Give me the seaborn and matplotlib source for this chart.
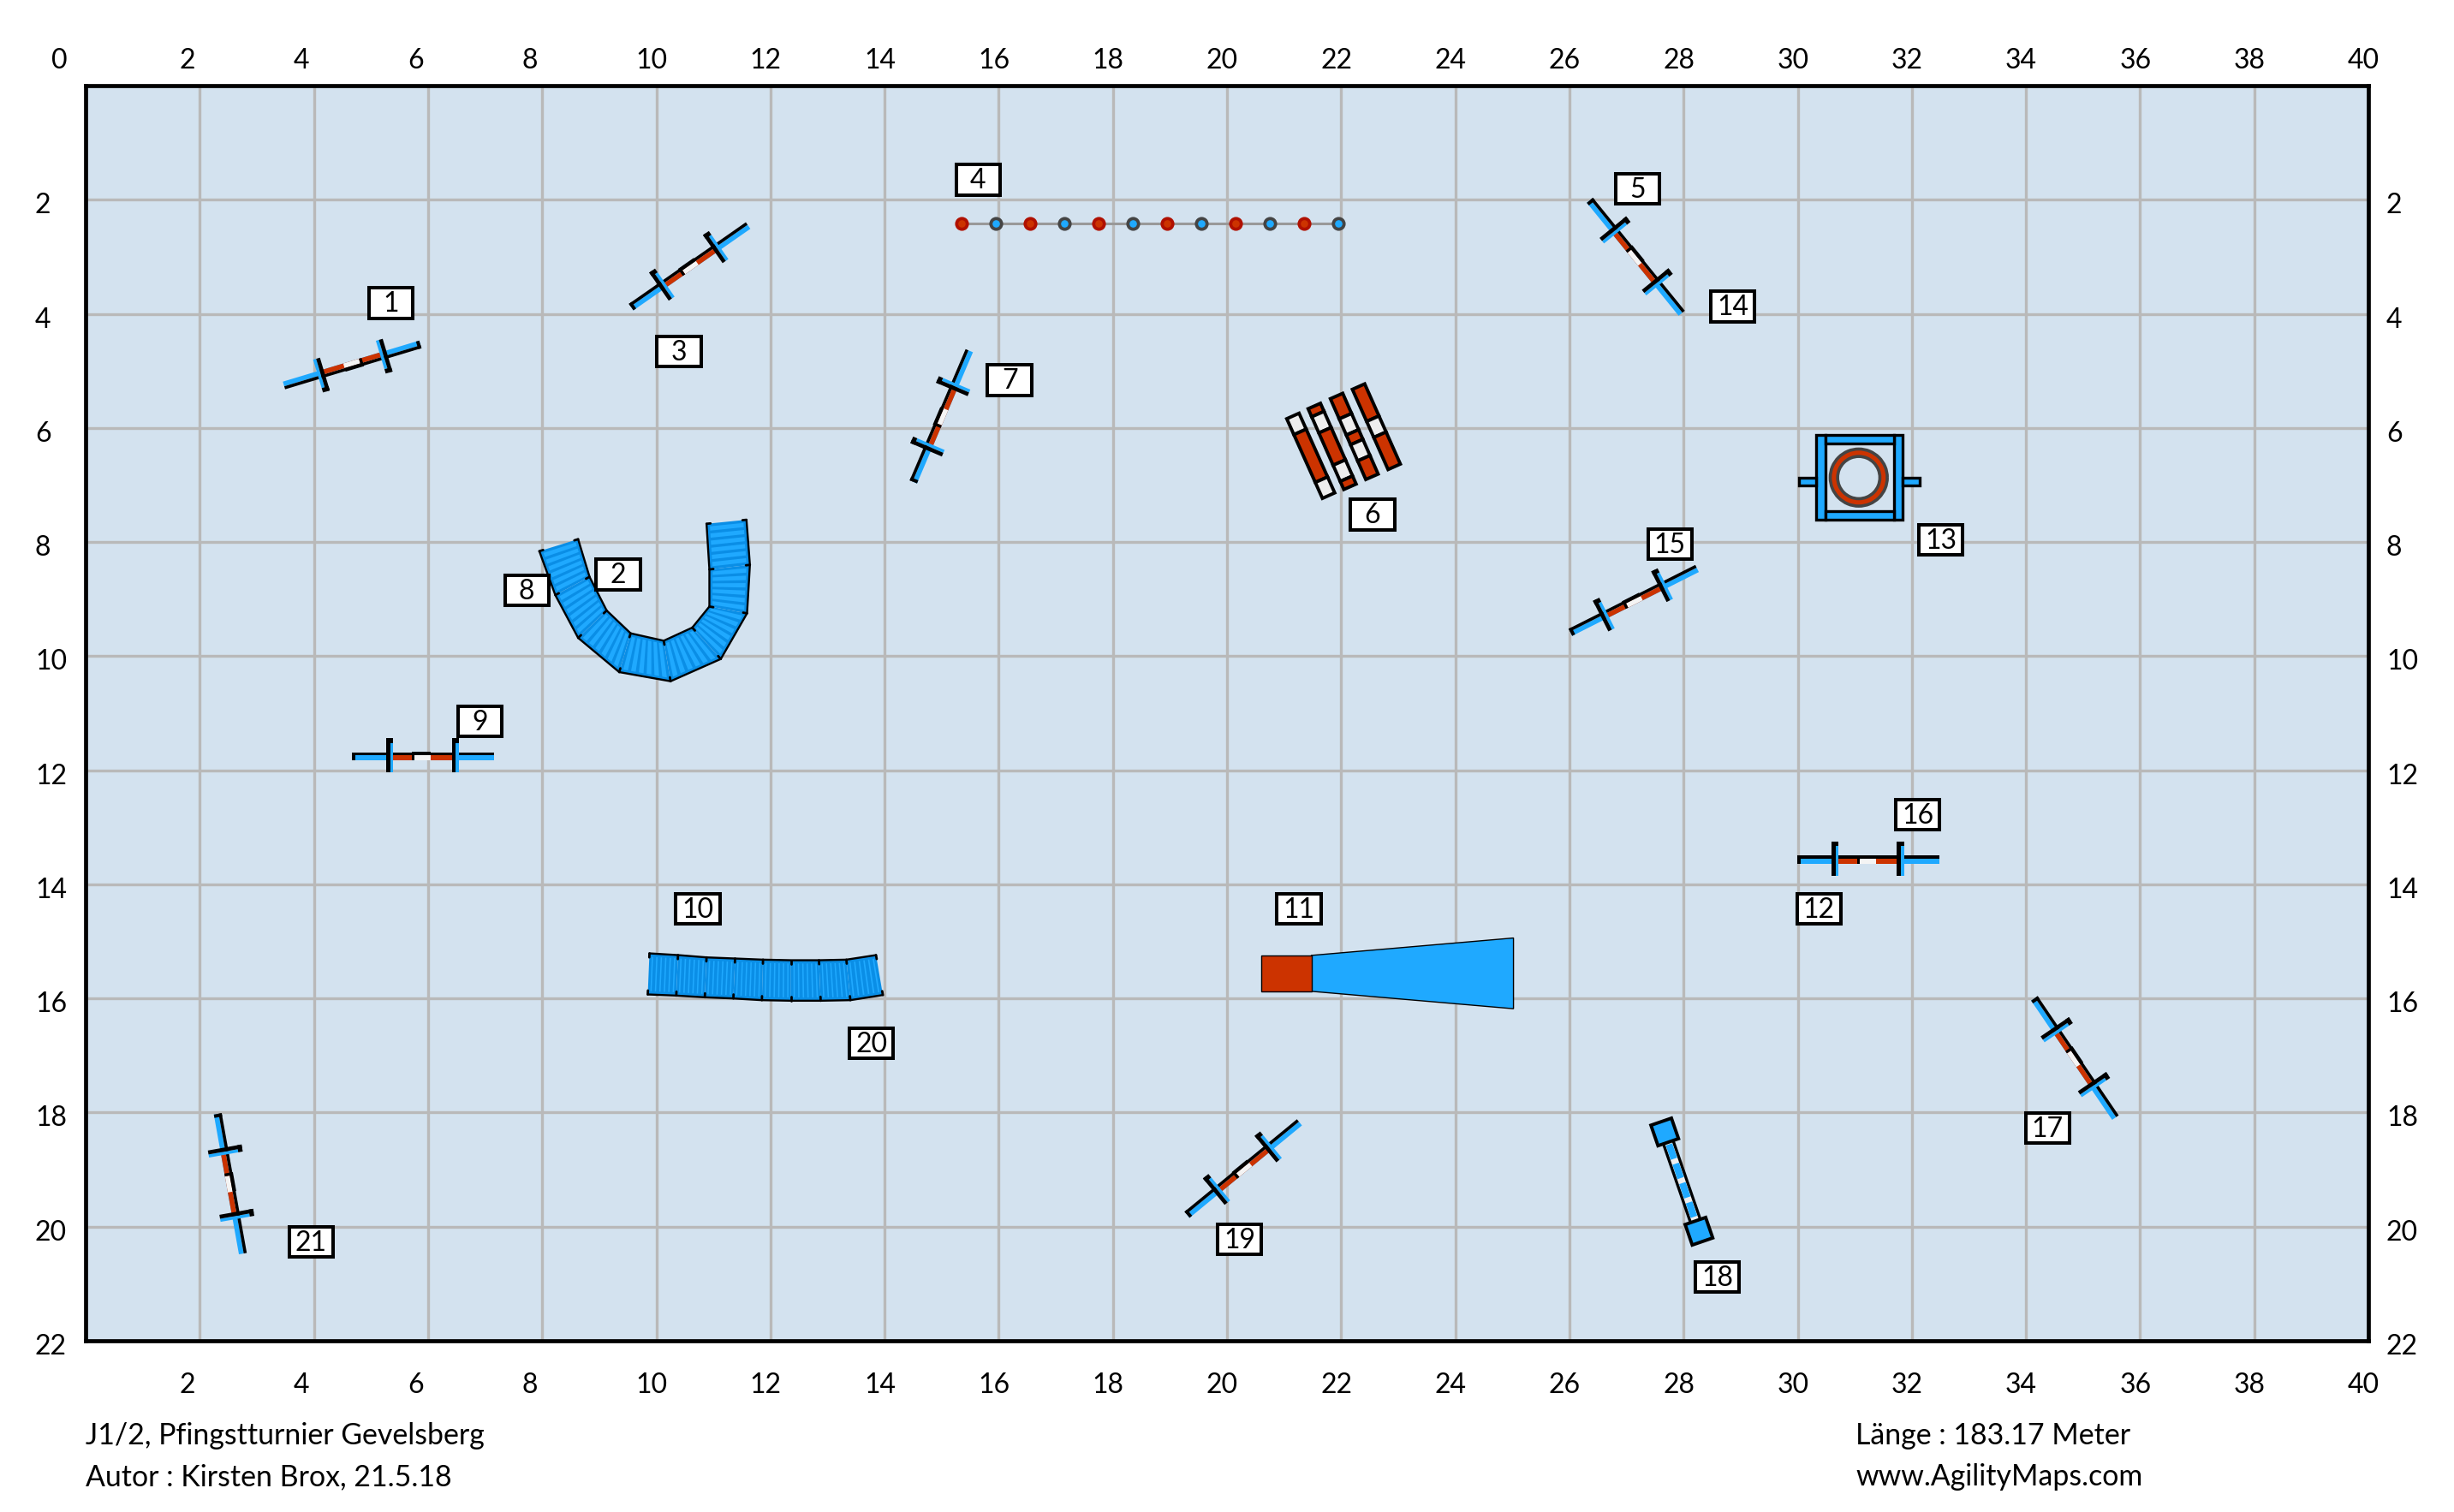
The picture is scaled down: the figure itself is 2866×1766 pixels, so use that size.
import numpy as np
import pandas as pd
import matplotlib
matplotlib.use("Agg")
import matplotlib.pyplot as plt
from matplotlib.patches import Rectangle, Polygon, Annulus
from matplotlib.transforms import ScaledTranslation
import seaborn as sns

# ---- course data (metres, y measured downward from the top edge) ----
x_ticks = list(range(0, 41, 2))
y_ticks = list(range(2, 23, 2))

jump_x0 = [5.87, 9.55, 26.37, 14.49, 4.66, 29.99, 26.01, 34.16, 19.29, 2.33]
jump_y0 = [4.55, 3.87, 2.00, 6.94, 11.74, 13.55, 9.57, 15.99, 19.78, 18.02]
jump_x1 = [3.48, 11.60, 27.98, 15.47, 7.16, 32.48, 28.23, 35.58, 21.26, 2.77]
jump_y1 = [5.27, 2.44, 3.98, 4.64, 11.74, 13.55, 8.45, 18.08, 18.16, 20.47]

weave_x = [15.35, 15.95, 16.55, 17.15, 17.75, 18.35, 18.95, 19.55, 20.15, 20.75, 21.35, 21.95]
weave_y = [2.415] * 12
weave_kind = ["red", "blue"] * 6

tunnel_a_outer_x = [7.95, 8.23, 8.63, 9.35, 10.25, 11.13, 11.59, 11.64, 11.58]
tunnel_a_outer_y = [8.16, 8.93, 9.68, 10.28, 10.44, 10.05, 9.25, 8.40, 7.61]
tunnel_a_inner_x = [8.63, 8.83, 9.13, 9.55, 10.13, 10.63, 10.93, 10.93, 10.88]
tunnel_a_inner_y = [7.95, 8.61, 9.20, 9.60, 9.73, 9.50, 9.13, 8.48, 7.68]

tunnel_b_top_x = [9.88, 10.38, 10.88, 11.38, 11.87, 12.36, 12.85, 13.33, 13.85]
tunnel_b_top_y = [15.21, 15.24, 15.28, 15.30, 15.32, 15.33, 15.33, 15.32, 15.24]
tunnel_b_bot_x = [9.85, 10.35, 10.85, 11.35, 11.85, 12.36, 12.88, 13.40, 13.97]
tunnel_b_bot_y = [15.93, 15.95, 15.98, 16.00, 16.03, 16.04, 16.04, 16.03, 15.94]

chute_x = [20.60, 21.48, 25.02]
chute_y_center = 15.56
chute_half = [0.315, 0.315, 0.62]

plank_x0 = [21.155, 21.53, 21.92, 22.305]
plank_y0 = [5.791, 5.616, 5.441, 5.276]
plank_x1 = [21.78, 22.155, 22.54, 22.93]
plank_y1 = [7.186, 7.031, 6.856, 6.681]
plank_cuts = [[0, .2, .8, 1], [0, .1, .3, .7, .9, 1], [0, .25, .45, .57, .77, 1], [0, .4, .6, 1]]
plank_first = ["white", "red", "red", "red"]

tire_center = (31.07, 6.87)
seesaw_x = [27.67, 28.27]
seesaw_y = [18.34, 20.08]
seesaw_dashes = [(.125, .27), (.32, .465), (.515, .66), (.71, .855)]

label_text = ["1", "2", "3", "4", "5", "6", "7", "8", "9", "10", "11", "12", "13", "14",
              "15", "16", "17", "18", "19", "20", "21"]
label_x = [5.35, 9.33, 10.40, 15.64, 27.19, 22.55, 16.19, 7.73, 6.91, 10.73, 21.26, 30.37,
           32.51, 28.86, 27.76, 32.10, 34.38, 28.59, 20.22, 13.77, 3.95]
label_y = [3.81, 8.57, 4.66, 1.65, 1.81, 7.52, 5.16, 8.85, 11.14, 14.43, 14.43, 14.43,
           7.96, 3.87, 8.04, 12.78, 18.27, 20.88, 20.22, 16.79, 20.27]

BLUE, DARK, RED, WHITE = "#1FA9FF", "#0A8EE6", "#CC3300", "#EEEEEE"
BG, GRID = "#D3E2EF", "#B9B9B9"

sns.set_theme(style="white")
plt.rcParams["font.family"] = ["Lato", "DejaVu Sans"]

W, H = 2866, 1766
fig = plt.figure(figsize=(W / 100, H / 100), dpi=100, facecolor="white")
ax = fig.add_axes([100 / W, 1 - 1566 / H, (2766 - 100) / W, (1566 - 100) / H])
ax.set_xlim(0, 40)
ax.set_ylim(22, 0)
ax.set_facecolor(BG)
ax.set_axisbelow(True)
ax.set_xticks(x_ticks)
ax.set_yticks(y_ticks)
ax.grid(True, color=GRID, lw=2.4)
ax.tick_params(length=0, labelsize=23, colors="black",
               top=True, bottom=True, left=True, right=True,
               labeltop=True, labelbottom=True, labelleft=True, labelright=True, pad=0)
for s in ax.spines.values():
    s.set_linewidth(3.4)
    s.set_color("black")
    s.set_zorder(20)


def shift(lab, dx, dy):
    lab.set_transform(lab.get_transform() + ScaledTranslation(dx / 100, -dy / 100, fig.dpi_scale_trans))


fig.canvas.draw()
for t, v in zip(ax.xaxis.get_major_ticks(), x_ticks):
    t.label1.set_ha("left")
    t.label2.set_ha("left")
    t.label1.set_va("center")
    t.label2.set_va("center")
    dx = -40 if v == 0 else -24
    shift(t.label2, dx, 71 - 100)
    shift(t.label1, dx, 1618 - 1566)
    if v == 0:
        t.label1.set_visible(False)
for t in ax.yaxis.get_major_ticks():
    t.label1.set_ha("left")
    t.label2.set_ha("left")
    t.label1.set_va("center")
    t.label2.set_va("center")
    shift(t.label1, 41 - 100, 7)
    shift(t.label2, 2787 - 2766, 7)


def quad(pts, color, z=3, ec="none", lw=0):
    ax.add_patch(Polygon(pts, closed=True, fc=color, ec=ec, lw=lw, zorder=z, joinstyle="miter"))


def draw_jump(x0, y0, x1, y1):
    s = np.array([x0, y0])
    d = np.array([x1 - x0, y1 - y0])
    L = np.hypot(*d)
    d = d / L
    n = np.array([d[1], -d[0]])

    def band(a, b, c, e, col, z=3):
        quad([s + a * d + c * n, s + b * d + c * n, s + b * d + e * n, s + a * d + e * n], col, z)

    band(0, L, -0.085, 0, BLUE)
    band(0, L, 0, 0.055, "black")
    band(0, 0.06, -0.085, 0.055, "black", 4)
    band(.27 * L, .73 * L, -0.085, 0, RED, 3.1)
    band(.4425 * L, .5575 * L, -0.085, 0, "#F4F4F4", 3.2)
    band(.4425 * L - 0.05, .4425 * L, -0.085, 0.055, "black", 3.3)
    band(.4425 * L - 0.05, .5575 * L, 0, 0.065, "black", 3.3)
    for f in (.27, .73):
        c = f * L
        band(c, c + 0.055, -0.3, 0.22, BLUE, 5)
        band(c - 0.07, c, -0.3, 0.3, "black", 5)
        band(c - 0.07, c + 0.055, 0.22, 0.3, "black", 5)


def draw_tunnel(ax_, ay_, bx_, by_, stripe):
    A = np.column_stack([ax_, ay_])
    B = np.column_stack([bx_, by_])
    for i in range(len(A) - 1):
        a0, a1, b0, b1 = A[i], A[i + 1], B[i], B[i + 1]
        quad([a0, a1, b1, b0], DARK, 3)
        for k in range(6):
            lo = (k + 0.5 - stripe / 2 + .2) / 6.4
            hi = (k + 0.5 + stripe / 2 + .2) / 6.4
            p = [a0 + (a1 - a0) * lo, a0 + (a1 - a0) * hi, b0 + (b1 - b0) * hi, b0 + (b1 - b0) * lo]
            p0, p1, p2, p3 = [np.array(q) for q in p]
            inset = 0.08
            quad([p0 + (p3 - p0) * inset, p1 + (p2 - p1) * inset,
                  p2 + (p1 - p2) * inset, p3 + (p0 - p3) * inset], BLUE, 3.1)
    for E, F in ((A, B), (B, A)):
        ax.plot(E[:, 0], E[:, 1], color="black", lw=1.7, zorder=4, solid_joinstyle="miter")
        for p, q in zip(E, F):
            u = (q - p) / np.hypot(*(q - p))
            ax.plot([p[0], p[0] + .07 * u[0]], [p[1], p[1] + .07 * u[1]], color="black", lw=2, zorder=4)


for vals in zip(jump_x0, jump_y0, jump_x1, jump_y1):
    draw_jump(*vals)

draw_tunnel(tunnel_a_outer_x, tunnel_a_outer_y, tunnel_a_inner_x, tunnel_a_inner_y, 0.6)
draw_tunnel(tunnel_b_top_x, tunnel_b_top_y, tunnel_b_bot_x, tunnel_b_bot_y, 0.3)

# weave poles
weave = pd.DataFrame({"x": weave_x, "y": weave_y, "kind": weave_kind})
sns.lineplot(data=weave, x="x", y="y", color="#999999", lw=2.2, ax=ax, zorder=3, legend=False, errorbar=None)
for kind, fc, ec in (("red", RED, "#B01000"), ("blue", BLUE, "#444444")):
    sns.scatterplot(data=weave[weave.kind == kind], x="x", y="y", s=80, color=fc, edgecolor=ec,
                    linewidth=2.7, ax=ax, zorder=4, legend=False)
ax.set_xlabel("")
ax.set_ylabel("")

# chute
cy = chute_y_center
quad([(chute_x[1], cy - chute_half[1]), (chute_x[2], cy - chute_half[2]),
      (chute_x[2], cy + chute_half[2]), (chute_x[1], cy + chute_half[1])], BLUE, 3, "black", 1.0)
ax.add_patch(Rectangle((chute_x[0], cy - chute_half[0]), chute_x[1] - chute_x[0], 2 * chute_half[0],
                       fc=RED, ec="black", lw=1.0, zorder=4))

# planks
for x0, y0, x1, y1, cuts, first in zip(plank_x0, plank_y0, plank_x1, plank_y1, plank_cuts, plank_first):
    a, b = np.array([x0, y0]), np.array([x1, y1])
    d = (b - a) / np.hypot(*(b - a))
    n = np.array([-d[1], d[0]]) * 0.118
    col = first
    for c0, c1 in zip(cuts[:-1], cuts[1:]):
        p, q = a + (b - a) * c0, a + (b - a) * c1
        quad([p + n, q + n, q - n, p - n], WHITE if col == "white" else RED, 4, "black", 2.8)
        col = "red" if col == "white" else "white"

# tire
tx, ty = tire_center
ax.add_patch(Annulus(tire_center, 0.5, 0.13, fc=RED, ec="#444444", lw=2.6, zorder=5))
for dx0, dx1, dy0, dy1 in ((-.74, -.585, -.75, .745), (.615, .765, -.75, .745),
                           (-.585, .615, -.75, -.60), (-.585, .615, .595, .745),
                           (-1.04, -.74, .005, .145), (.765, 1.065, .005, .145)):
    ax.add_patch(Rectangle((tx + dx0, ty + dy0), dx1 - dx0, dy1 - dy0, fc=BLUE, ec="black", lw=2.4, zorder=4))

# seesaw
a, b = np.array([seesaw_x[0], seesaw_y[0]]), np.array([seesaw_x[1], seesaw_y[1]])
d = (b - a) / np.hypot(*(b - a))
n = np.array([-d[1], d[0]])
quad([a + .09 * n, b + .09 * n, b - .09 * n, a - .09 * n], WHITE, 3, "black", 2.4)
for c0, c1 in seesaw_dashes:
    p, q = a + (b - a) * c0, a + (b - a) * c1
    quad([p + .06 * n, q + .06 * n, q - .06 * n, p - .06 * n], BLUE, 4)
for c in (a, b):
    r = .19
    quad([c + r * (d + n), c + r * (d - n), c + r * (-d - n), c + r * (-d + n)], BLUE, 5, "black", 2.8)

# number labels
for t, x, y in zip(label_text, label_x, label_y):
    ax.add_patch(Rectangle((x - .385, y - .265), .77, .53, fc="white", ec="black", lw=2.9, zorder=8))
    ax.text(x, y + .02, t, ha="center", va="center", fontsize=23, color="black", zorder=9)

fs = 24.4
fig.text(100 / W, 1 - 1677 / H, "J1/2, Pfingstturnier Gevelsberg", fontsize=fs, va="center", ha="left", color="black")
fig.text(100 / W, 1 - 1725 / H, "Autor : Kirsten Brox, 21.5.18", fontsize=fs, va="center", ha="left", color="black")
fig.text(2167 / W, 1 - 1677 / H, "Länge : 183.17 Meter", fontsize=fs, va="center", ha="left", color="black")
fig.text(2167 / W, 1 - 1725 / H, "www.AgilityMaps.com", fontsize=fs, va="center", ha="left", color="black")

fig.savefig("out.png", dpi=100)
